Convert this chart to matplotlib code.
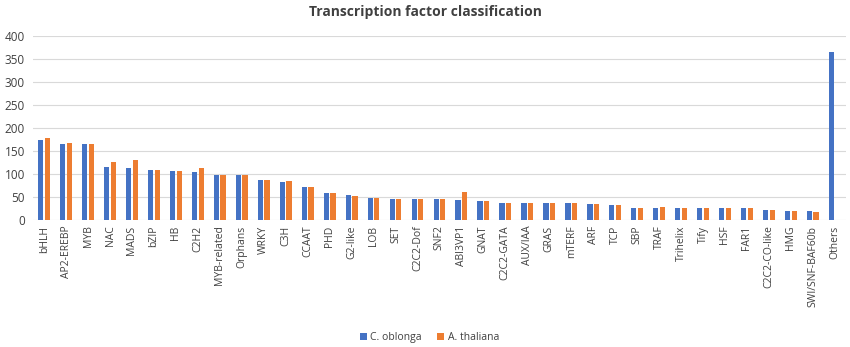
import matplotlib
matplotlib.use("Agg")
import matplotlib.pyplot as plt
import numpy as np

categories = ["bHLH", "AP2-EREBP", "MYB", "NAC", "MADS", "bZIP", "HB", "C2H2",
              "MYB-related", "Orphans", "WRKY", "C3H", "CCAAT", "PHD", "G2-like",
              "LOB", "SET", "C2C2-Dof", "SNF2", "ABI3VP1", "GNAT", "C2C2-GATA",
              "AUX/IAA", "GRAS", "mTERF", "ARF", "TCP", "SBP", "TRAF", "Trihelix",
              "Tify", "HSF", "FAR1", "C2C2-CO-like", "HMG", "SWI/SNF-BAF60b", "Others"]
c_oblonga = [174, 165, 165, 114, 112, 109, 107, 105, 98, 98, 86, 82, 71, 59, 54,
             48, 46, 46, 46, 43, 41, 36, 36, 36, 36, 34, 32, 27, 27, 27, 25, 25,
             25, 22, 20, 20, 364]
a_thaliana = [177, 168, 165, 126, 131, 109, 107, 113, 98, 98, 86, 85, 71, 59, 53,
              48, 46, 46, 46, 61, 41, 36, 36, 36, 36, 34, 32, 27, 29, 27, 25, 25,
              25, 22, 20, 18, None]
series_names = ["C. oblonga", "A. thaliana"]
yticks = [0, 50, 100, 150, 200, 250, 300, 350, 400]

plt.rcParams['font.family'] = ['Open Sans', 'DejaVu Sans']
fig = plt.figure(figsize=(8.5, 3.47), dpi=100)
ax = fig.add_axes([0.039, 0.366, 0.956, 0.531])

x = np.arange(len(categories))
w = 0.24
gap = 0.06
blue = "#4472C4"
orange = "#ED7D31"
ax.bar(x - w/2 - gap/2, c_oblonga, width=w, color=blue, label=series_names[0], zorder=3)
a_vals = [np.nan if v is None else v for v in a_thaliana]
ax.bar(x + w/2 + gap/2, a_vals, width=w, color=orange, label=series_names[1], zorder=3)

ax.set_xlim(-0.5, len(categories) - 0.5)
ax.set_ylim(0, 400)
ax.set_yticks(yticks)
ax.set_xticks(x)
ax.set_xticklabels(categories, rotation=90, fontsize=7.5, color="#404040")
ax.tick_params(axis='y', labelsize=8.5, colors="#404040", length=0, pad=6)
ax.tick_params(axis='x', length=0, pad=4)
ax.grid(axis='y', color="#d9d9d9", linewidth=0.8, zorder=0)
for s in ax.spines.values():
    s.set_visible(False)

fig.suptitle("Transcription factor classification", x=0.5, y=0.985,
             fontsize=10, fontweight='bold', color="#404040")

fig.legend(loc='center', bbox_to_anchor=(0.505, 0.027), ncol=2, frameon=False,
           fontsize=7.5, handlelength=0.7, handleheight=0.7, handletextpad=0.3,
           columnspacing=1.5, labelcolor="#404040")

fig.savefig("out.png", dpi=100)
